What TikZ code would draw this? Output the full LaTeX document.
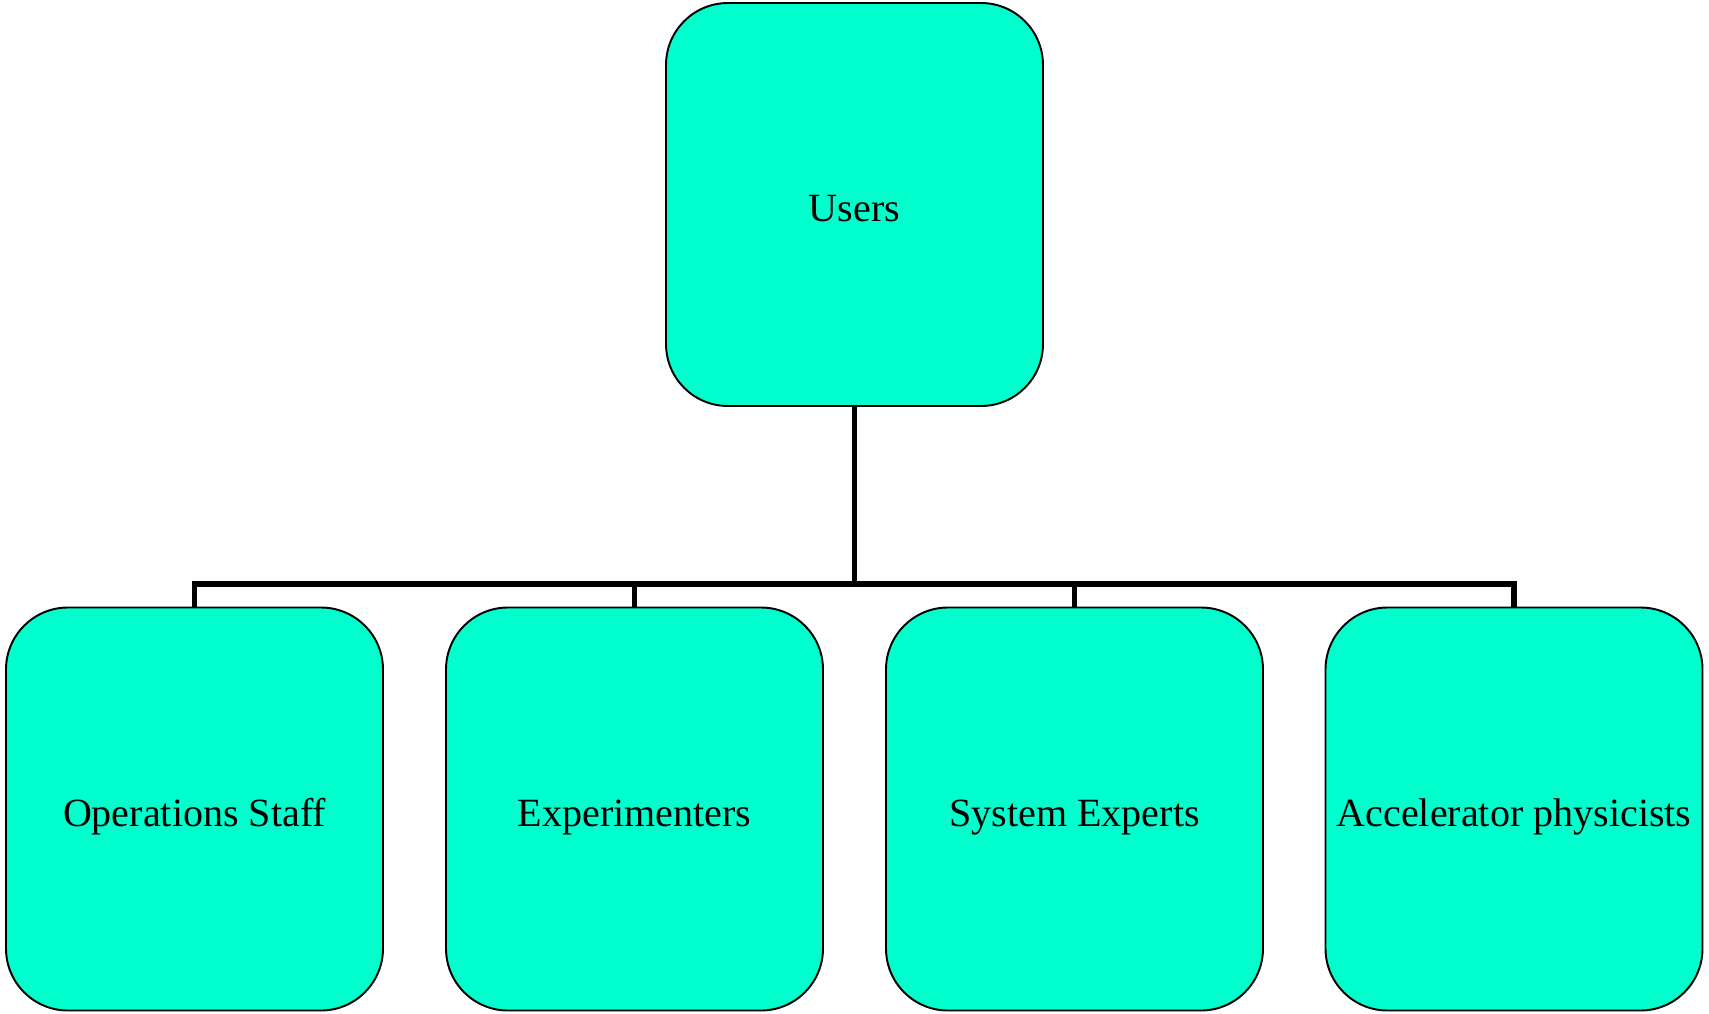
\documentclass[tikz,border=0pt]{standalone}
\usepackage{fontspec}
\setmainfont{Liberation Serif}
\usetikzlibrary{positioning, calc}
\definecolor{BoxAqua}{RGB}{0, 255, 204}

\begin{document}
\begin{tikzpicture}[font=\fontsize{22.8}{27}\selectfont,
    group/.style={draw=black, line width=1.1pt, rounded corners=1.24cm, fill=BoxAqua,
        text=black, align=center, inner sep=2pt, minimum width=7.54cm, minimum height=8.06cm},
    top/.style={group, text height=0.66cm, text depth=0cm},
    member/.style={group, text height=0.86cm, text depth=0.17cm},
    link/.style={draw=black, line width=2.9pt}]

\useasboundingbox (0,0) rectangle (34.18,-20.26);

\node[top] (users) at (17.09,-4.09) {Users};

\node[member] (ops)  at (3.89,-16.18)  {Operations Staff};
\node[member] (exp)  at (12.69,-16.18) {Experimenters};
\node[member] (sys)  at (21.49,-16.18) {System Experts};
\node[member] (phys) at (30.28,-16.18) {Accelerator physicists};

\coordinate (bus) at (17.09,-11.68);

\draw[link] (users.south) -- (users |- bus);
\draw[link] (ops.north) -- (ops |- bus) -- (phys |- bus) -- (phys.north);
\draw[link] (exp.north) -- (exp |- bus);
\draw[link] (sys.north) -- (sys |- bus);

\end{tikzpicture}
\end{document}
